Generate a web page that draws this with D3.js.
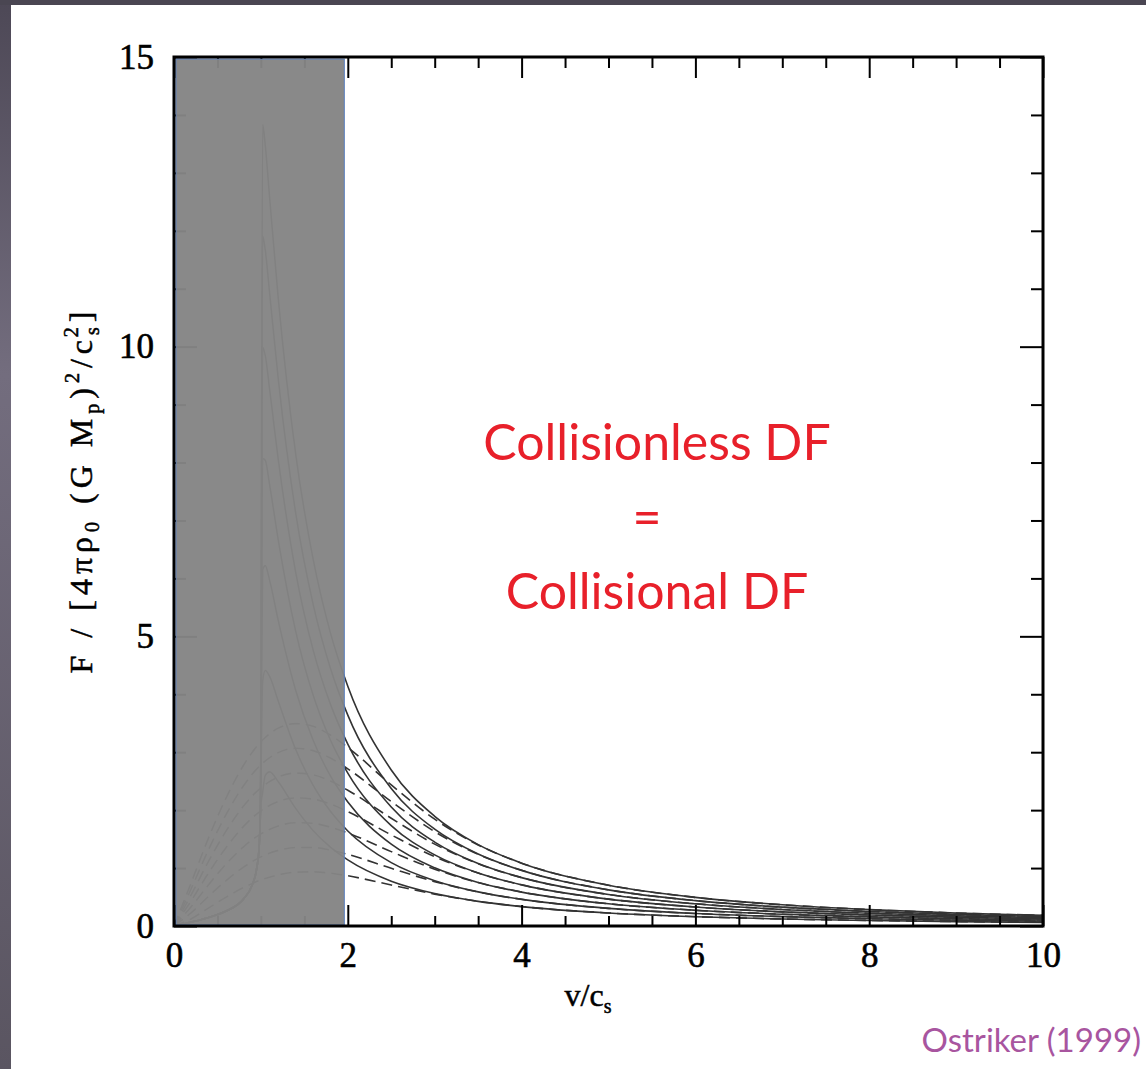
<!DOCTYPE html>
<html>
<head>
<meta charset="utf-8">
<script src="https://cdn.jsdelivr.net/npm/d3@7/dist/d3.min.js"></script>
<style>
  html, body { margin: 0; padding: 0; background: #4b4753; }
  svg { display: block; }
</style>
</head>
<body>
<script>
// Dynamical friction force vs. Mach number: gaseous medium (solid) and
// collisionless medium (dashed), one curve per Coulomb-logarithm value.

// Subsonic branch shared by all gaseous curves
const machSub = [0, 0.2, 0.4, 0.6, 0.8, 0.9, 0.95, 0.98, 0.995];
const gasSubsonic = [0, 0.068, 0.148, 0.259, 0.467, 0.706, 0.977, 1.372, 2.02];

// Supersonic branch of each gaseous curve
const machSuper = [1.02, 1.05, 1.1, 1.2, 1.4, 1.6, 1.8, 2, 2.5, 3, 3.5, 4, 5, 6, 7, 8, 9, 10];
const gasL4  = [2.30, 2.60, 2.66, 2.49, 2.03, 1.65, 1.36, 1.14, 0.773, 0.560, 0.425, 0.335, 0.224, 0.160, 0.121, 0.095, 0.076, 0.063];
const gasL6  = [4.22, 4.41, 4.31, 3.88, 3.05, 2.43, 1.98, 1.64, 1.093, 0.782, 0.589, 0.460, 0.304, 0.216, 0.162, 0.126, 0.101, 0.083];
const gasL8  = [6.15, 6.22, 5.97, 5.27, 4.07, 3.21, 2.59, 2.14, 1.413, 1.004, 0.752, 0.585, 0.384, 0.272, 0.203, 0.157, 0.126, 0.103];
const gasL10 = [8.07, 8.04, 7.62, 6.66, 5.09, 3.99, 3.21, 2.64, 1.733, 1.227, 0.915, 0.710, 0.464, 0.327, 0.244, 0.189, 0.151, 0.123];
const gasL12 = [9.99, 9.85, 9.27, 8.05, 6.11, 4.77, 3.83, 3.14, 2.053, 1.449, 1.078, 0.835, 0.544, 0.383, 0.284, 0.220, 0.175, 0.143];
const gasL14 = [11.91, 11.67, 10.93, 9.44, 7.13, 5.56, 4.45, 3.64, 2.373, 1.671, 1.242, 0.960, 0.624, 0.438, 0.325, 0.251, 0.200, 0.163];
const gasL16 = [13.84, 13.48, 12.58, 10.83, 8.15, 6.34, 5.06, 4.14, 2.693, 1.893, 1.405, 1.085, 0.704, 0.494, 0.366, 0.282, 0.225, 0.183];

// Collisionless curves
const machColl = [0, 0.2, 0.4, 0.6, 0.8, 1.0, 1.2, 1.4, 1.6, 1.8, 2, 2.5, 3, 3.5, 4, 5, 6, 7, 8, 9, 10];
const collL4  = [0, 0.126, 0.313, 0.498, 0.664, 0.795, 0.883, 0.928, 0.935, 0.912, 0.867, 0.708, 0.550, 0.426, 0.336, 0.224, 0.161, 0.121, 0.095, 0.077, 0.063];
const collL6  = [0, 0.231, 0.516, 0.784, 1.016, 1.193, 1.305, 1.355, 1.354, 1.309, 1.236, 0.996, 0.766, 0.588, 0.461, 0.304, 0.216, 0.162, 0.126, 0.101, 0.083];
const collL8  = [0, 0.336, 0.718, 1.070, 1.367, 1.590, 1.727, 1.783, 1.772, 1.706, 1.605, 1.284, 0.981, 0.750, 0.586, 0.384, 0.272, 0.203, 0.158, 0.126, 0.103];
const collL10 = [0, 0.441, 0.921, 1.355, 1.719, 1.988, 2.149, 2.211, 2.190, 2.104, 1.974, 1.572, 1.197, 0.913, 0.711, 0.464, 0.328, 0.244, 0.189, 0.151, 0.123];
const collL12 = [0, 0.546, 1.124, 1.641, 2.070, 2.386, 2.571, 2.639, 2.609, 2.501, 2.344, 1.860, 1.413, 1.075, 0.836, 0.544, 0.383, 0.285, 0.220, 0.175, 0.143];
const collL14 = [0, 0.651, 1.327, 1.926, 2.422, 2.783, 2.993, 3.067, 3.027, 2.899, 2.713, 2.148, 1.629, 1.237, 0.961, 0.624, 0.439, 0.325, 0.251, 0.200, 0.163];
const collL16 = [0, 0.756, 1.530, 2.212, 2.774, 3.181, 3.415, 3.494, 3.446, 3.296, 3.082, 2.436, 1.844, 1.399, 1.085, 0.704, 0.494, 0.366, 0.283, 0.225, 0.183];

// Axis ticks
const xMajorTicks = [0, 2, 4, 6, 8, 10];
const xMinorTicks = [0.5, 1, 1.5, 2.5, 3, 3.5, 4.5, 5, 5.5, 6.5, 7, 7.5, 8.5, 9, 9.5];
const yMajorTicks = [0, 5, 10, 15];
const yMinorTicks = [1, 2, 3, 4, 6, 7, 8, 9, 11, 12, 13, 14];

// Shaded velocity band
const shadedBand = [0, 1.96];

// Annotations
const noteLines = ["Collisionless DF", "=", "Collisional DF"];
const creditText = "Ostriker (1999)";

const W = 1146, H = 1069;
const svg = d3.select("body").append("svg").attr("width", W).attr("height", H);

const defs = svg.append("defs");
const grad = defs.append("linearGradient").attr("id", "edge").attr("x1", 0).attr("y1", 0).attr("x2", 0).attr("y2", 1);
grad.append("stop").attr("offset", "0%").attr("stop-color", "#4d4856");
grad.append("stop").attr("offset", "35%").attr("stop-color", "#736d7e");
grad.append("stop").attr("offset", "100%").attr("stop-color", "#5a5561");

svg.append("rect").attr("width", W).attr("height", H).attr("fill", "url(#edge)");
svg.append("rect").attr("x", 0).attr("y", 0).attr("width", W).attr("height", 5).attr("fill", "#4a4652");
svg.append("rect").attr("x", 11).attr("y", 5).attr("width", W - 11).attr("height", H - 5).attr("fill", "#ffffff");

const x = d3.scaleLinear().domain([0, 10]).range([174, 1043]);
const y = d3.scaleLinear().domain([0, 15]).range([926, 57]);

const plot = svg.append("g");

const line = d3.line()
  .x(d => x(d[0]))
  .y(d => y(d[1]))
  .curve(d3.curveMonotoneX);

const gasSeries = [gasL4, gasL6, gasL8, gasL10, gasL12, gasL14, gasL16];
const collSeries = [collL4, collL6, collL8, collL10, collL12, collL14, collL16];

const clip = defs.append("clipPath").attr("id", "plotclip");
clip.append("rect").attr("x", x(0)).attr("y", y(15)).attr("width", x(10) - x(0)).attr("height", y(0) - y(15));

const curves = plot.append("g").attr("clip-path", "url(#plotclip)");

collSeries.forEach(vals => {
  const pts = machColl.map((m, i) => [m, vals[i]]);
  curves.append("path")
    .attr("d", line(pts))
    .attr("fill", "none")
    .attr("stroke", "#333")
    .attr("stroke-width", 1.6)
    .attr("stroke-dasharray", "11,6");
});

gasSeries.forEach(vals => {
  const pts = machSub.map((m, i) => [m, gasSubsonic[i]])
    .concat(machSuper.map((m, i) => [m, vals[i]]));
  curves.append("path")
    .attr("d", line(pts))
    .attr("fill", "none")
    .attr("stroke", "#333")
    .attr("stroke-width", 1.6);
});

// Axes with inward ticks on all four sides
const axisStyle = g => {
  g.select(".domain").remove();
  g.selectAll(".tick line").attr("stroke", "#000").attr("stroke-width", 2);
};
const serif = "'Liberation Serif', 'DejaVu Serif', serif";
const tickFont = g => g.selectAll("text")
  .attr("font-family", serif)
  .attr("font-size", 35)
  .attr("fill", "#000")
  .attr("stroke", "#000")
  .attr("stroke-width", 0.6);

plot.append("g").attr("transform", `translate(0,${y(0)})`)
  .call(d3.axisBottom(x).tickValues(xMajorTicks).tickSize(-21).tickPadding(16).tickFormat(d3.format("d")))
  .call(axisStyle).call(tickFont);
plot.append("g").attr("transform", `translate(0,${y(0)})`)
  .call(d3.axisBottom(x).tickValues(xMinorTicks).tickSize(-10).tickFormat(""))
  .call(axisStyle);
plot.append("g").attr("transform", `translate(0,${y(15)})`)
  .call(d3.axisTop(x).tickValues(xMajorTicks).tickSize(-21).tickFormat(""))
  .call(axisStyle);
plot.append("g").attr("transform", `translate(0,${y(15)})`)
  .call(d3.axisTop(x).tickValues(xMinorTicks).tickSize(-11).tickFormat(""))
  .call(axisStyle);

plot.append("g").attr("transform", `translate(${x(0)},0)`)
  .call(d3.axisLeft(y).tickValues(yMajorTicks).tickSize(-23).tickPadding(20).tickFormat(d3.format("d")))
  .call(axisStyle).call(tickFont);
plot.append("g").attr("transform", `translate(${x(0)},0)`)
  .call(d3.axisLeft(y).tickValues(yMinorTicks).tickSize(-12).tickFormat(""))
  .call(axisStyle);
plot.append("g").attr("transform", `translate(${x(10)},0)`)
  .call(d3.axisRight(y).tickValues(yMajorTicks).tickSize(-23).tickFormat(""))
  .call(axisStyle);
plot.append("g").attr("transform", `translate(${x(10)},0)`)
  .call(d3.axisRight(y).tickValues(yMinorTicks).tickSize(-12).tickFormat(""))
  .call(axisStyle);

// Shaded band over the low-velocity region
plot.append("rect")
  .attr("x", x(shadedBand[0]) + 2)
  .attr("y", y(15) + 2)
  .attr("width", x(shadedBand[1]) - x(shadedBand[0]) - 2)
  .attr("height", y(0) - y(15) - 3)
  .attr("fill", "#858585")
  .attr("fill-opacity", 0.965)
  .attr("stroke", "#5a80c0")
  .attr("stroke-width", 1);

// Frame
plot.append("rect")
  .attr("x", x(0)).attr("y", y(15))
  .attr("width", x(10) - x(0)).attr("height", y(0) - y(15))
  .attr("fill", "none").attr("stroke", "#000").attr("stroke-width", 3);

// Axis titles
const xt = svg.append("text")
  .attr("x", 588).attr("y", 1006)
  .attr("text-anchor", "middle")
  .attr("font-family", serif).attr("font-size", 32)
  .attr("stroke", "#000").attr("stroke-width", 0.5);
xt.append("tspan").text("v/c");
xt.append("tspan").attr("font-size", 20).attr("dy", 7).text("s");

const yt = svg.append("text")
  .attr("transform", `translate(92,490) rotate(-90)`)
  .attr("text-anchor", "middle")
  .attr("font-family", serif).attr("font-size", 32)
  .attr("letter-spacing", 5)
  .attr("stroke", "#000").attr("stroke-width", 0.5);
yt.append("tspan").text("F / [4πρ");
yt.append("tspan").attr("font-size", 20).attr("dy", 7).text("0");
yt.append("tspan").attr("dy", -7).text("  (G M");
yt.append("tspan").attr("font-size", 20).attr("dy", 7).text("p");
yt.append("tspan").attr("dy", -7).text(")");
yt.append("tspan").attr("font-size", 20).attr("dy", -13).text("2");
yt.append("tspan").attr("dy", 13).text("/c");
yt.append("tspan").attr("font-size", 20).attr("dy", 7).text("s");
yt.append("tspan").attr("font-size", 20).attr("dx", -15).attr("dy", -21).text("2");
yt.append("tspan").attr("dy", 14).text("]");

// Red annotation
const noteY = [460, 535, 609];
noteLines.forEach((t, i) => {
  svg.append("text")
    .attr("x", i === 1 ? 647 : 657).attr("y", noteY[i])
    .attr("text-anchor", "middle")
    .attr("font-family", "Lato, 'Open Sans', sans-serif")
    .attr("font-size", 50)
    .attr("fill", "#e8202a")
    .text(t);
});

svg.append("text")
  .attr("x", 1141).attr("y", 1052)
  .attr("text-anchor", "end")
  .attr("font-family", "Lato, 'Open Sans', sans-serif")
  .attr("font-size", 33)
  .attr("fill", "#a8559f")
  .text(creditText);
</script>
</body>
</html>
